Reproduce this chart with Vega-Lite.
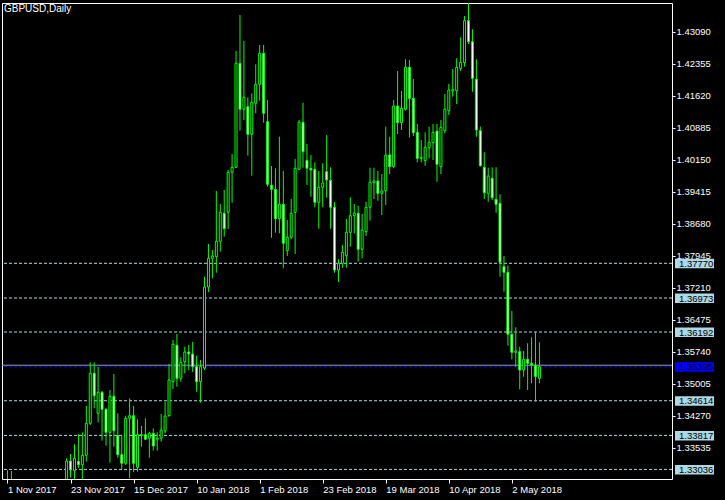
{
  "$schema": "https://vega.github.io/schema/vega-lite/v6.json",
  "width": 670,
  "height": 476,
  "autosize": {"type": "none"},
  "padding": {"left": 2, "top": 3, "right": 53, "bottom": 21},
  "background": "#000000",
  "title": {"text": "GBPUSD,Daily", "anchor": "start", "frame": "group", "orient": "top", "offset": -11, "dx": 2, "color": "#ffffff", "font": "Liberation Sans", "fontSize": 10, "fontWeight": "normal"},
  "config": {
    "view": {"stroke": "#ffffff", "strokeWidth": 1, "fill": "#000000"},
    "axis": {"domain": false, "grid": false, "labelColor": "#ffffff", "tickColor": "#ffffff", "labelFont": "Liberation Sans", "labelFontSize": 9.5, "tickWidth": 1, "labelOverlap": false, "labelSeparation": 0},
    "axisX": {"tickSize": 4, "labelAlign": "left", "labelBaseline": "top", "labelPadding": 1, "labelFlush": false, "labelBound": false},
    "axisY": {"tickSize": 3, "labelPadding": 1, "labelBaseline": "middle", "labelAlign": "left", "labelBound": false}
  },
  "datasets": {
    "candles": [
      {"i":0,"o":1.3275,"h":1.3302,"l":1.3225,"c":1.3240},
      {"i":1,"o":1.3270,"h":1.3300,"l":1.3070,"c":1.3080},
      {"i":15,"o":1.32678,"h":1.33291,"l":1.3245,"c":1.33229},
      {"i":16,"o":1.33229,"h":1.33390,"l":1.32846,"c":1.33023},
      {"i":17,"o":1.33007,"h":1.33613,"l":1.32804,"c":1.33291},
      {"i":18,"o":1.33222,"h":1.33850,"l":1.33069,"c":1.33144},
      {"i":19,"o":1.33144,"h":1.33889,"l":1.32747,"c":1.33360},
      {"i":20,"o":1.33360,"h":1.34493,"l":1.33213,"c":1.34095},
      {"i":21,"o":1.34095,"h":1.35496,"l":1.34056,"c":1.35244},
      {"i":22,"o":1.35244,"h":1.35496,"l":1.34440,"c":1.34729},
      {"i":23,"o":1.34325,"h":1.35395,"l":1.34118,"c":1.34807},
      {"i":24,"o":1.34807,"h":1.34837,"l":1.33696,"c":1.34417},
      {"i":25,"o":1.34417,"h":1.34440,"l":1.33581,"c":1.33889},
      {"i":26,"o":1.33889,"h":1.34860,"l":1.33190,"c":1.34715},
      {"i":27,"o":1.34715,"h":1.35228,"l":1.33558,"c":1.33925},
      {"i":28,"o":1.33810,"h":1.34325,"l":1.33305,"c":1.33374},
      {"i":29,"o":1.33374,"h":1.33810,"l":1.33046,"c":1.33177},
      {"i":30,"o":1.33177,"h":1.34270,"l":1.33137,"c":1.34210},
      {"i":31,"o":1.34210,"h":1.34669,"l":1.32839,"c":1.34270},
      {"i":32,"o":1.34270,"h":1.34493,"l":1.32977,"c":1.33177},
      {"i":33,"o":1.33085,"h":1.34187,"l":1.32984,"c":1.33833},
      {"i":34,"o":1.33833,"h":1.34033,"l":1.33558,"c":1.33820},
      {"i":35,"o":1.33833,"h":1.34210,"l":1.33712,"c":1.33728},
      {"i":36,"o":1.33751,"h":1.33902,"l":1.33305,"c":1.33866},
      {"i":37,"o":1.33866,"h":1.33980,"l":1.33466,"c":1.33574},
      {"i":38,"o":1.33728,"h":1.33889,"l":1.33466,"c":1.33758},
      {"i":39,"o":1.33751,"h":1.34309,"l":1.33673,"c":1.33941},
      {"i":40,"o":1.33925,"h":1.34591,"l":1.33866,"c":1.34263},
      {"i":41,"o":1.34270,"h":1.35457,"l":1.34247,"c":1.35090},
      {"i":42,"o":1.35051,"h":1.36009,"l":1.34883,"c":1.35910},
      {"i":43,"o":1.35887,"h":1.36146,"l":1.34936,"c":1.35129},
      {"i":44,"o":1.35129,"h":1.35611,"l":1.35051,"c":1.35496},
      {"i":45,"o":1.35510,"h":1.35855,"l":1.35244,"c":1.35733},
      {"i":46,"o":1.35733,"h":1.35894,"l":1.35320,"c":1.35687},
      {"i":47,"o":1.35687,"h":1.35963,"l":1.35274,"c":1.35395},
      {"i":48,"o":1.35395,"h":1.35648,"l":1.34821,"c":1.35051},
      {"i":49,"o":1.35051,"h":1.35549,"l":1.34568,"c":1.35395},
      {"i":50,"o":1.35365,"h":1.37463,"l":1.35320,"c":1.37226},
      {"i":51,"o":1.37226,"h":1.38214,"l":1.37111,"c":1.37885},
      {"i":52,"o":1.37885,"h":1.38076,"l":1.37426,"c":1.37938},
      {"i":53,"o":1.37922,"h":1.39431,"l":1.37554,"c":1.38276},
      {"i":54,"o":1.38276,"h":1.39132,"l":1.38037,"c":1.38942},
      {"i":55,"o":1.38919,"h":1.39454,"l":1.38381,"c":1.38565},
      {"i":56,"o":1.38942,"h":1.39913,"l":1.38558,"c":1.39860},
      {"i":57,"o":1.39860,"h":1.40281,"l":1.39162,"c":1.39975},
      {"i":58,"o":1.39975,"h":1.42647,"l":1.39959,"c":1.42364},
      {"i":59,"o":1.42364,"h":1.43474,"l":1.40816,"c":1.41308},
      {"i":60,"o":1.41308,"h":1.42876,"l":1.41062,"c":1.41583},
      {"i":61,"o":1.41367,"h":1.41583,"l":1.40242,"c":1.40733},
      {"i":62,"o":1.40733,"h":1.41675,"l":1.39782,"c":1.41468},
      {"i":63,"o":1.41445,"h":1.42341,"l":1.41216,"c":1.41882},
      {"i":64,"o":1.41882,"h":1.42784,"l":1.41505,"c":1.42594},
      {"i":65,"o":1.42594,"h":1.42784,"l":1.41000,"c":1.41216},
      {"i":66,"o":1.41023,"h":1.41521,"l":1.39530,"c":1.39585},
      {"i":67,"o":1.39562,"h":1.40005,"l":1.38358,"c":1.39470},
      {"i":68,"o":1.39470,"h":1.39952,"l":1.38473,"c":1.38795},
      {"i":69,"o":1.38795,"h":1.40678,"l":1.38459,"c":1.39125},
      {"i":70,"o":1.39125,"h":1.39890,"l":1.37655,"c":1.38230},
      {"i":71,"o":1.38060,"h":1.38765,"l":1.37938,"c":1.38368},
      {"i":72,"o":1.38368,"h":1.39247,"l":1.38322,"c":1.38919},
      {"i":73,"o":1.38942,"h":1.40166,"l":1.37984,"c":1.39952},
      {"i":74,"o":1.39929,"h":1.41062,"l":1.39913,"c":1.41009},
      {"i":75,"o":1.41009,"h":1.41459,"l":1.39966,"c":1.40334},
      {"i":76,"o":1.40136,"h":1.40511,"l":1.39569,"c":1.39952},
      {"i":77,"o":1.39952,"h":1.40258,"l":1.39300,"c":1.39913},
      {"i":78,"o":1.39929,"h":1.40090,"l":1.39057,"c":1.39171},
      {"i":79,"o":1.39171,"h":1.39890,"l":1.38565,"c":1.39516},
      {"i":80,"o":1.39516,"h":1.40067,"l":1.39057,"c":1.39615},
      {"i":81,"o":1.39874,"h":1.40717,"l":1.39277,"c":1.39684},
      {"i":82,"o":1.39677,"h":1.39975,"l":1.38565,"c":1.39057},
      {"i":83,"o":1.39057,"h":1.39178,"l":1.37554,"c":1.37616},
      {"i":84,"o":1.37616,"h":1.37862,"l":1.37341,"c":1.37770},
      {"i":85,"o":1.37770,"h":1.38191,"l":1.37669,"c":1.38023},
      {"i":86,"o":1.37945,"h":1.38788,"l":1.37669,"c":1.38482},
      {"i":87,"o":1.38482,"h":1.39286,"l":1.38152,"c":1.38864},
      {"i":88,"o":1.38864,"h":1.39132,"l":1.38459,"c":1.38919},
      {"i":89,"o":1.38919,"h":1.39093,"l":1.37807,"c":1.38092},
      {"i":90,"o":1.38092,"h":1.38903,"l":1.37885,"c":1.38535},
      {"i":91,"o":1.38496,"h":1.39185,"l":1.38397,"c":1.39057},
      {"i":92,"o":1.39057,"h":1.39966,"l":1.38749,"c":1.39631},
      {"i":93,"o":1.39622,"h":1.39966,"l":1.39247,"c":1.39661},
      {"i":94,"o":1.39661,"h":1.39890,"l":1.39208,"c":1.39378},
      {"i":95,"o":1.39378,"h":1.39821,"l":1.38880,"c":1.39431},
      {"i":96,"o":1.39438,"h":1.40908,"l":1.39109,"c":1.40258},
      {"i":97,"o":1.40258,"h":1.40678,"l":1.39821,"c":1.39989},
      {"i":98,"o":1.39989,"h":1.41521,"l":1.39966,"c":1.41383},
      {"i":99,"o":1.41383,"h":1.42187,"l":1.40740,"c":1.41000},
      {"i":100,"o":1.41000,"h":1.41728,"l":1.40832,"c":1.41331},
      {"i":101,"o":1.41308,"h":1.42456,"l":1.41275,"c":1.42272},
      {"i":102,"o":1.42272,"h":1.42440,"l":1.40655,"c":1.41560},
      {"i":103,"o":1.41560,"h":1.42003,"l":1.40694,"c":1.40770},
      {"i":104,"o":1.40779,"h":1.40970,"l":1.40090,"c":1.40182},
      {"i":105,"o":1.40182,"h":1.40602,"l":1.40090,"c":1.40205},
      {"i":106,"o":1.40127,"h":1.40779,"l":1.40012,"c":1.40435},
      {"i":107,"o":1.40426,"h":1.40908,"l":1.40182,"c":1.40550},
      {"i":108,"o":1.40540,"h":1.40970,"l":1.40143,"c":1.40779},
      {"i":109,"o":1.40809,"h":1.40970,"l":1.39645,"c":1.40044},
      {"i":110,"o":1.39989,"h":1.41062,"l":1.39821,"c":1.40894},
      {"i":111,"o":1.40816,"h":1.41659,"l":1.40756,"c":1.41308},
      {"i":112,"o":1.41275,"h":1.41889,"l":1.41177,"c":1.41751},
      {"i":113,"o":1.41728,"h":1.42233,"l":1.41597,"c":1.41760},
      {"i":114,"o":1.41735,"h":1.42479,"l":1.41429,"c":1.42272},
      {"i":115,"o":1.42249,"h":1.42961,"l":1.42194,"c":1.42387},
      {"i":116,"o":1.42378,"h":1.43451,"l":1.42286,"c":1.43343},
      {"i":117,"o":1.43343,"h":1.43750,"l":1.42807,"c":1.42860},
      {"i":118,"o":1.42860,"h":1.43145,"l":1.41712,"c":1.42020},
      {"i":119,"o":1.41997,"h":1.42456,"l":1.40678,"c":1.40832},
      {"i":120,"o":1.40816,"h":1.40908,"l":1.39989,"c":1.40012},
      {"i":121,"o":1.39975,"h":1.40320,"l":1.39247,"c":1.39392},
      {"i":122,"o":1.39378,"h":1.39966,"l":1.39185,"c":1.39775},
      {"i":123,"o":1.39723,"h":1.39975,"l":1.39224,"c":1.39277},
      {"i":124,"o":1.39240,"h":1.39975,"l":1.38932,"c":1.39125},
      {"i":125,"o":1.39148,"h":1.39355,"l":1.37463,"c":1.37793},
      {"i":126,"o":1.37692,"h":1.37938,"l":1.37118,"c":1.37564},
      {"i":127,"o":1.37564,"h":1.37715,"l":1.35878,"c":1.36140},
      {"i":128,"o":1.36140,"h":1.36675,"l":1.35565,"c":1.35726},
      {"i":129,"o":1.35726,"h":1.36300,"l":1.35395,"c":1.35756},
      {"i":130,"o":1.35740,"h":1.35855,"l":1.34876,"c":1.35320},
      {"i":131,"o":1.35320,"h":1.35756,"l":1.35166,"c":1.35565},
      {"i":132,"o":1.35565,"h":1.35933,"l":1.34860,"c":1.35473},
      {"i":133,"o":1.35473,"h":1.36071,"l":1.35014,"c":1.35434},
      {"i":134,"o":1.35434,"h":1.36199,"l":1.34591,"c":1.35170},
      {"i":135,"o":1.35129,"h":1.35956,"l":1.35014,"c":1.35395}
    ],
    "levels": [
      {"p":1.37770},{"p":1.36973},{"p":1.36192},{"p":1.34614},{"p":1.33817},{"p":1.33036}
    ],
    "bid": [{"p":1.35395}]
  },
  "layer": [
    {
      "data": {"name": "levels"},
      "mark": {"type": "rule", "stroke": "#ADD8E6", "strokeWidth": 1, "strokeDash": [3, 2]},
      "encoding": {
        "y": {"field": "p", "type": "quantitative", "scale": {"domain": [1.32816, 1.43749], "nice": false, "zero": false},
          "axis": {"title": null, "orient": "right", "format": ".5f", "labelOverlap": false, "labelSeparation": 0,
            "values": [1.43090, 1.42355, 1.41620, 1.40885, 1.40150, 1.39415, 1.38680, 1.37945, 1.37210, 1.36475, 1.35740, 1.35005, 1.34270, 1.33535]}}
      }
    },
    {
      "data": {"name": "bid"},
      "mark": {"type": "rule", "stroke": "#9A9AB0", "strokeWidth": 1, "yOffset": -1.5},
      "encoding": {
        "y": {"field": "p", "type": "quantitative", "scale": {"domain": [1.32816, 1.43749], "nice": false, "zero": false},
          "axis": {"title": null, "orient": "right", "format": ".5f", "labelOverlap": false, "labelSeparation": 0,
            "values": [1.43090, 1.42355, 1.41620, 1.40885, 1.40150, 1.39415, 1.38680, 1.37945, 1.37210, 1.36475, 1.35740, 1.35005, 1.34270, 1.33535]}}
      }
    },
    {
      "data": {"name": "bid"},
      "mark": {"type": "rule", "stroke": "#0000FF", "strokeWidth": 1, "strokeDash": [3, 2]},
      "encoding": {
        "y": {"field": "p", "type": "quantitative", "scale": {"domain": [1.32816, 1.43749], "nice": false, "zero": false},
          "axis": {"title": null, "orient": "right", "format": ".5f", "labelOverlap": false, "labelSeparation": 0,
            "values": [1.43090, 1.42355, 1.41620, 1.40885, 1.40150, 1.39415, 1.38680, 1.37945, 1.37210, 1.36475, 1.35740, 1.35005, 1.34270, 1.33535]}}
      }
    },
    {
      "data": {"name": "candles"},
      "mark": {"type": "rule", "color": "#00FF00", "strokeWidth": 1, "clip": true},
      "encoding": {
        "x": {"field": "i", "type": "quantitative", "scale": {"domain": [-0.125, 167.375], "nice": false, "zero": false},
          "axis": {"title": null, "values": [0, 16, 32, 48, 64, 80, 96, 112, 128], "labelOverlap": false,
            "labelExpr": "['1 Nov 2017','23 Nov 2017','15 Dec 2017','10 Jan 2018','1 Feb 2018','23 Feb 2018','19 Mar 2018','10 Apr 2018','2 May 2018'][round(datum.value/16)]"}},
        "y": {"field": "l", "type": "quantitative", "scale": {"domain": [1.32816, 1.43749], "nice": false, "zero": false},
          "axis": {"title": null, "orient": "right", "format": ".5f", "labelOverlap": false, "labelSeparation": 0,
            "values": [1.43090, 1.42355, 1.41620, 1.40885, 1.40150, 1.39415, 1.38680, 1.37945, 1.37210, 1.36475, 1.35740, 1.35005, 1.34270, 1.33535]}},
        "y2": {"field": "h"}
      }
    },
    {
      "data": {"name": "candles"},
      "mark": {"type": "bar", "width": 2, "stroke": "#00FF00", "strokeWidth": 1, "clip": true},
      "encoding": {
        "x": {"field": "i", "type": "quantitative", "scale": {"domain": [-0.125, 167.375], "nice": false, "zero": false},
          "axis": {"title": null, "values": [0, 16, 32, 48, 64, 80, 96, 112, 128], "labelOverlap": false,
            "labelExpr": "['1 Nov 2017','23 Nov 2017','15 Dec 2017','10 Jan 2018','1 Feb 2018','23 Feb 2018','19 Mar 2018','10 Apr 2018','2 May 2018'][round(datum.value/16)]"}},
        "y": {"field": "o", "type": "quantitative", "scale": {"domain": [1.32816, 1.43749], "nice": false, "zero": false},
          "axis": {"title": null, "orient": "right", "format": ".5f", "labelOverlap": false, "labelSeparation": 0,
            "values": [1.43090, 1.42355, 1.41620, 1.40885, 1.40150, 1.39415, 1.38680, 1.37945, 1.37210, 1.36475, 1.35740, 1.35005, 1.34270, 1.33535]}},
        "y2": {"field": "c"},
        "fill": {"condition": {"test": "datum.c > datum.o", "value": "#000000"}, "value": "#ffffff"}
      }
    },
    {
      "data": {"name": "levels"},
      "mark": {"type": "rect", "fill": "#ADD8E6", "xOffset": 3, "x2Offset": 42, "yOffset": -4.5, "y2Offset": 5, "clip": false},
      "encoding": {
        "x": {"value": "width"},
        "x2": {"value": "width"},
        "y": {"field": "p", "type": "quantitative", "scale": {"domain": [1.32816, 1.43749], "nice": false, "zero": false},
          "axis": {"title": null, "orient": "right", "format": ".5f", "labelOverlap": false, "labelSeparation": 0,
            "values": [1.43090, 1.42355, 1.41620, 1.40885, 1.40150, 1.39415, 1.38680, 1.37945, 1.37210, 1.36475, 1.35740, 1.35005, 1.34270, 1.33535]}},
        "y2": {"field": "p"}
      }
    },
    {
      "data": {"name": "bid"},
      "mark": {"type": "rect", "fill": "#0000FF", "xOffset": 3, "x2Offset": 42, "yOffset": -4.5, "y2Offset": 5, "clip": false},
      "encoding": {
        "x": {"value": "width"},
        "x2": {"value": "width"},
        "y": {"field": "p", "type": "quantitative", "scale": {"domain": [1.32816, 1.43749], "nice": false, "zero": false},
          "axis": {"title": null, "orient": "right", "format": ".5f", "labelOverlap": false, "labelSeparation": 0,
            "values": [1.43090, 1.42355, 1.41620, 1.40885, 1.40150, 1.39415, 1.38680, 1.37945, 1.37210, 1.36475, 1.35740, 1.35005, 1.34270, 1.33535]}},
        "y2": {"field": "p"}
      }
    },
    {
      "data": {"name": "levels"},
      "mark": {"type": "text", "align": "left", "baseline": "middle", "dx": 7, "dy": 0.5, "font": "Liberation Sans", "fontSize": 9.5, "color": "#000000", "clip": false},
      "encoding": {
        "x": {"value": "width"},
        "y": {"field": "p", "type": "quantitative", "scale": {"domain": [1.32816, 1.43749], "nice": false, "zero": false},
          "axis": {"title": null, "orient": "right", "format": ".5f", "labelOverlap": false, "labelSeparation": 0,
            "values": [1.43090, 1.42355, 1.41620, 1.40885, 1.40150, 1.39415, 1.38680, 1.37945, 1.37210, 1.36475, 1.35740, 1.35005, 1.34270, 1.33535]}},
        "text": {"field": "p", "type": "quantitative", "format": ".5f"}
      }
    },
    {
      "data": {"name": "bid"},
      "mark": {"type": "text", "align": "left", "baseline": "middle", "dx": 7, "dy": 0.5, "font": "Liberation Sans", "fontSize": 9.5, "color": "#00002a", "clip": false},
      "encoding": {
        "x": {"value": "width"},
        "y": {"field": "p", "type": "quantitative", "scale": {"domain": [1.32816, 1.43749], "nice": false, "zero": false},
          "axis": {"title": null, "orient": "right", "format": ".5f", "labelOverlap": false, "labelSeparation": 0,
            "values": [1.43090, 1.42355, 1.41620, 1.40885, 1.40150, 1.39415, 1.38680, 1.37945, 1.37210, 1.36475, 1.35740, 1.35005, 1.34270, 1.33535]}},
        "text": {"field": "p", "type": "quantitative", "format": ".5f"}
      }
    }
  ]
}
